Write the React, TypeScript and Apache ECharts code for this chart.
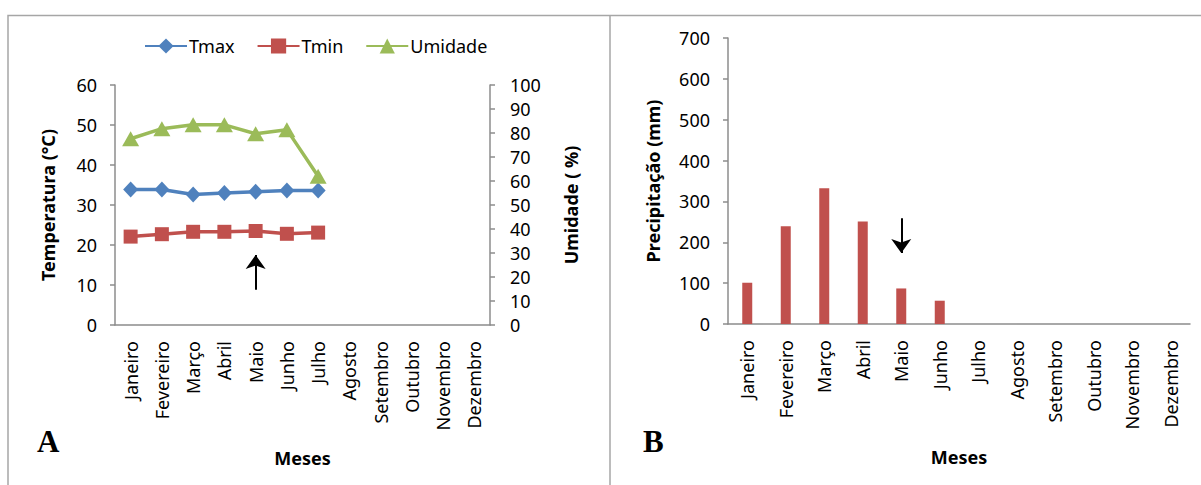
import React, { useEffect, useRef } from "react";
import * as echarts from "echarts";

const months = ["Janeiro", "Fevereiro", "Março", "Abril", "Maio", "Junho", "Julho", "Agosto", "Setembro", "Outubro", "Novembro", "Dezembro"];
const tmax = [33.9, 33.9, 32.6, 33.0, 33.3, 33.6, 33.6];
const tmin = [22.1, 22.7, 23.3, 23.3, 23.5, 22.8, 23.1];
const umidade = [77.6, 81.8, 83.4, 83.4, 79.7, 81.4, 62.0];
const precipitacao = [101, 239, 332, 251, 87, 57, 0, 0, 0, 0, 0, 0];

const FONT = "Noto Sans";
const AXIS_COLOR = "#8c8c8c";

export default function App() {
  const ref = useRef<HTMLDivElement>(null);
  useEffect(() => {
    if (!ref.current) return;
    const chart = echarts.init(ref.current, undefined, { renderer: "svg" });
    const axisLine = { show: true, lineStyle: { color: AXIS_COLOR, width: 1.5 } };
    const tickLabel = { color: "#000", fontFamily: FONT, fontSize: 18 };
    const nameStyle = { color: "#000", fontFamily: FONT, fontSize: 18, fontWeight: "bold" as const };
    const xCat = (gridIndex: number) => ({
      type: "category" as const,
      gridIndex,
      data: months,
      boundaryGap: true,
      axisLine,
      axisTick: { show: false },
      axisLabel: { ...tickLabel, rotate: 90, interval: 0, margin: 16 },
      name: "Meses",
      nameLocation: "middle" as const,
      nameGap: 124,
      nameTextStyle: nameStyle,
      splitLine: { show: false },
    });
    const yVal = (gridIndex: number, min: number, max: number, interval: number, name: string, position: "left" | "right", nameGap: number) => ({
      type: "value" as const,
      gridIndex,
      min,
      max,
      interval,
      position,
      axisLine,
      axisTick: { show: true, length: 5, lineStyle: { color: AXIS_COLOR, width: 1.5 } },
      axisLabel: { ...tickLabel, margin: position === "left" ? 18 : 20 },
      splitLine: { show: false },
      name,
      nameLocation: "middle" as const,
      nameRotate: 90,
      nameGap,
      nameTextStyle: nameStyle,
    });
    const arrowLine = (from: [string, number], to: [string, number]) => ({
      silent: true,
      symbol: ["none", "arrow"],
      symbolSize: [15, 14],
      label: { show: false },
      lineStyle: { color: "#000", width: 2, type: "solid" as const },
      emphasis: { disabled: true },
      data: [[{ coord: from }, { coord: to }]],
    });
    chart.setOption({
      animation: false,
      backgroundColor: "#fff",
      legend: {
        data: ["Tmax", "Tmin", "Umidade"],
        left: 139,
        top: 32,
        itemWidth: 42,
        itemHeight: 19,
        itemGap: 22,
        textStyle: { color: "#000", fontFamily: FONT, fontSize: 18, padding: [0, 0, 0, -3] },
      },
      grid: [
        { left: 115, top: 85, width: 375, height: 240 },
        { left: 728, top: 38, width: 462, height: 286 },
      ],
      xAxis: [xCat(0), xCat(1)],
      yAxis: [
        yVal(0, 0, 60, 10, "Temperatura (°C)", "left", 58),
        yVal(0, 0, 100, 10, "Umidade ( %)", "right", 72),
        yVal(1, 0, 700, 100, "Precipitação (mm)", "left", 66),
      ],
      series: [
        {
          name: "Tmax",
          type: "line",
          xAxisIndex: 0,
          yAxisIndex: 0,
          data: tmax,
          symbol: "diamond",
          symbolSize: [15, 16],
          lineStyle: { color: "#4F81BD", width: 3.5 },
          itemStyle: { color: "#4F81BD" },
        },
        {
          name: "Tmin",
          type: "line",
          xAxisIndex: 0,
          yAxisIndex: 0,
          data: tmin,
          symbol: "rect",
          symbolSize: 14,
          lineStyle: { color: "#C0504D", width: 3.5 },
          itemStyle: { color: "#C0504D" },
          markLine: arrowLine(["Maio", 8.8], ["Maio", 17.5]),
        },
        {
          name: "Umidade",
          type: "line",
          xAxisIndex: 0,
          yAxisIndex: 1,
          data: umidade,
          symbol: "triangle",
          symbolSize: [17, 15],
          lineStyle: { color: "#9BBB59", width: 3.5 },
          itemStyle: { color: "#9BBB59" },
        },
        {
          name: "Precipitação",
          type: "bar",
          xAxisIndex: 1,
          yAxisIndex: 2,
          data: precipitacao,
          barWidth: 10,
          itemStyle: { color: "#C0504D" },
          markLine: arrowLine(["Maio", 259], ["Maio", 174]),
        },
      ],
      graphic: [
        { type: "rect", shape: { x: 8, y: 15.5, width: 1300, height: 600 }, style: { fill: "none", stroke: "#a6a6a6", lineWidth: 1.5 }, silent: true },
        { type: "line", shape: { x1: 610, y1: 15, x2: 610, y2: 485 }, style: { stroke: "#a6a6a6", lineWidth: 1.5 }, silent: true },
        { type: "text", left: 37, top: 426, style: { text: "A", fontFamily: "Liberation Serif", fontWeight: "bold", fontSize: 31, fill: "#000" } },
        { type: "text", left: 643, top: 426, style: { text: "B", fontFamily: "Liberation Serif", fontWeight: "bold", fontSize: 31, fill: "#000" } },
      ],
    });
    return () => chart.dispose();
  }, []);
  return <div ref={ref} style={{ position: "fixed", left: 0, top: 0, width: 1201, height: 485 }} />;
}
